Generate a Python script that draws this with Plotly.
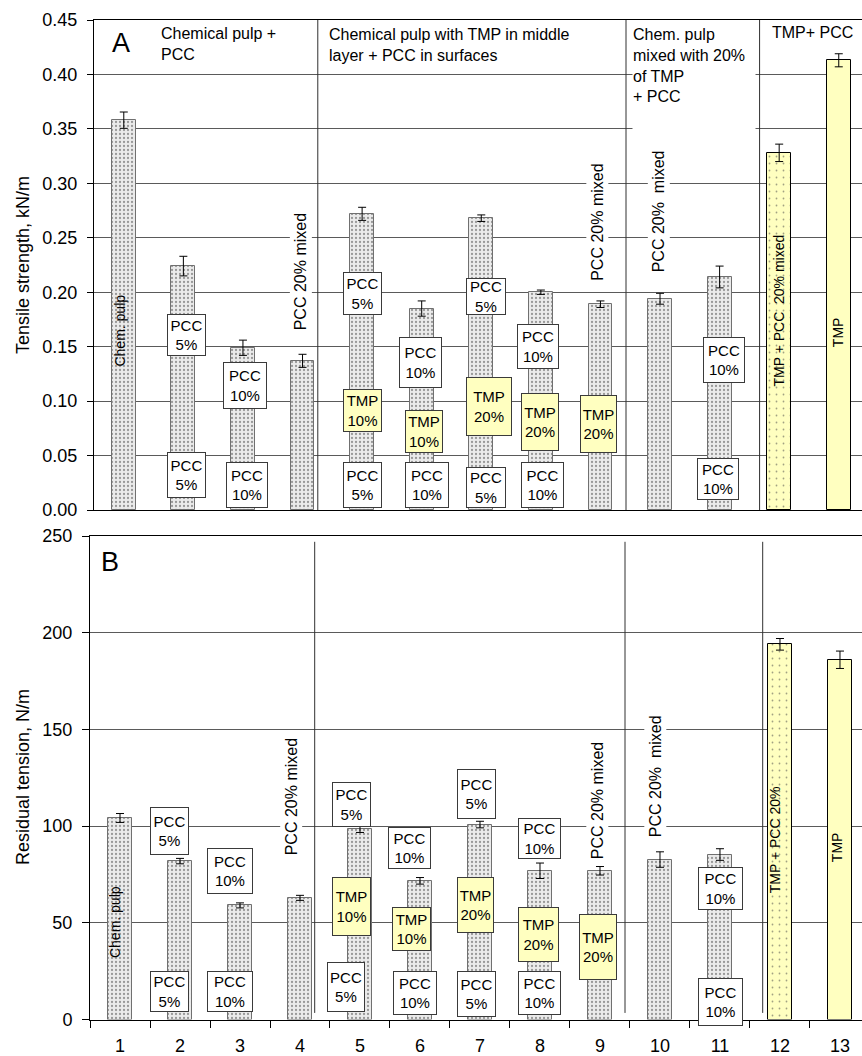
import plotly.graph_objects as go

# ---------------- data ----------------
categories = list(range(1, 14))
tick_labels = [str(c) for c in categories]

tensile = [0.358, 0.224, 0.149, 0.137, 0.272, 0.185, 0.268, 0.200, 0.189, 0.194, 0.214, 0.328, 0.413]
tensile_err = [0.0075, 0.009, 0.007, 0.006, 0.006, 0.007, 0.003, 0.002, 0.003, 0.005, 0.010, 0.008, 0.006]

residual = [104.2, 81.9, 59.0, 62.9, 98.5, 71.7, 100.8, 76.9, 76.9, 82.7, 85.3, 194.0, 186.0]
residual_err = [2.3, 1.4, 1.3, 1.3, 1.8, 1.7, 1.7, 4.0, 2.2, 4.0, 3.0, 3.0, 4.5]

# bar styles: 'g' = chemical pulp grey, 'd' = dotted yellow (mixed TMP), 'y' = TMP yellow
bar_kind = ['g'] * 11 + ['d', 'y']

# layer boxes: (label, x, y, width_px, height_px, kind)
boxes_A = [
    ("PCC<br>5%", 2.058, 0.1607, 39, 42, 'w'), ("PCC<br>5%", 2.058, 0.0321, 39, 46, 'w'),
    ("PCC<br>10%", 3.04, 0.1139, 44, 47, 'w'), ("PCC<br>10%", 3.07, 0.0230, 42, 46, 'w'),
    ("PCC<br>5%", 5.01, 0.1988, 39, 43, 'w'), ("TMP<br>10%", 5.01, 0.0914, 39, 43, 'y'),
    ("PCC<br>5%", 5.01, 0.0230, 39, 46, 'w'),
    ("PCC<br>10%", 5.985, 0.1355, 43, 51, 'w'), ("TMP<br>10%", 6.044, 0.0721, 38, 43, 'y'),
    ("PCC<br>10%", 6.094, 0.0230, 44, 46, 'w'),
    ("PCC<br>5%", 7.085, 0.1960, 40, 37, 'w'), ("TMP<br>20%", 7.135, 0.0951, 46, 59, 'y'),
    ("PCC<br>5%", 7.085, 0.0211, 40, 41, 'w'),
    ("PCC<br>10%", 7.957, 0.1502, 42, 45, 'w'), ("TMP<br>20%", 7.99, 0.0808, 38, 58, 'y'),
    ("PCC<br>10%", 8.024, 0.0230, 43, 46, 'w'),
    ("TMP<br>20%", 8.97, 0.0790, 37, 58, 'y'),
    ("PCC<br>10%", 11.08, 0.1378, 42, 46, 'w'), ("PCC<br>10%", 10.98, 0.0285, 42, 42, 'w'),
]
boxes_B = [
    ("PCC<br>5%", 1.833, 97.4, 39, 48, 'w'), ("PCC<br>5%", 1.833, 14.7, 39, 41, 'w'),
    ("PCC<br>10%", 2.833, 76.7, 46, 46, 'w'), ("PCC<br>10%", 2.833, 14.7, 46, 41, 'w'),
    ("PCC<br>5%", 4.858, 111.1, 39, 45, 'w'), ("TMP<br>10%", 4.858, 58.6, 39, 59, 'y'),
    ("PCC<br>5%", 4.767, 16.8, 38, 50, 'w'),
    ("PCC<br>10%", 5.825, 88.6, 43, 42, 'w'), ("TMP<br>10%", 5.858, 46.7, 39, 44, 'y'),
    ("PCC<br>10%", 5.917, 13.7, 44, 44, 'w'),
    ("PCC<br>5%", 6.942, 116.5, 39, 50, 'w'), ("TMP<br>20%", 6.925, 59.1, 37, 56, 'y'),
    ("PCC<br>5%", 6.942, 13.2, 39, 46, 'w'),
    ("PCC<br>10%", 7.992, 93.7, 43, 41, 'w'), ("TMP<br>20%", 7.975, 44.2, 41, 55, 'y'),
    ("PCC<br>10%", 7.992, 13.7, 43, 44, 'w'),
    ("TMP<br>20%", 8.967, 37.4, 38, 66, 'y'),
    ("PCC<br>10%", 11.008, 67.7, 45, 43, 'w'), ("PCC<br>10%", 11.008, 9.0, 45, 48, 'w'),
]

# rotated labels: (text, x, y, white background?, font size)
vlabels_A = [
    ("Chem. pulp", 0.94, 0.165, False, 14),
    ("PCC 20% mixed", 3.98, 0.2186, True, 16),
    ("PCC 20% mixed", 8.956, 0.2645, True, 16),
    ("PCC 20%  mixed", 9.988, 0.2746, True, 16),
    ("TMP + PCC  20% mixed", 11.99, 0.1828, False, 14),
    ("TMP", 12.99, 0.1635, False, 14),
]
vlabels_B = [
    ("Chem. pulp", 0.917, 50.4, False, 14),
    ("PCC 20% mixed", 3.85, 115.4, True, 16),
    ("PCC 20% mixed", 8.95, 113.4, True, 16),
    ("PCC 20%  mixed", 9.917, 125.8, True, 16),
    ("TMP + PCC 20%", 11.917, 92.7, False, 14),
    ("TMP", 12.95, 89.1, False, 14),
]

# group dividers
dividers_A = [4.256, 9.429, 11.671]
dividers_B = [4.245, 9.417, 11.712]

group_titles = [
    ("Chemical pulp +<br>PCC", 159, 23),
    ("Chemical pulp with TMP in middle<br>layer + PCC in surfaces", 327, 24),
    ("TMP+ PCC", 770, 22),
]

# ---------------- figure ----------------
W, H = 862, 1056
FONT = "Liberation Sans, Arial, sans-serif"
GREY, YEL = "#ebebeb", "#ffffc0"

fill = [GREY if k == 'g' else YEL for k in bar_kind]
pshape = ["." if k in ('g', 'd') else "" for k in bar_kind]
pfg = ["#d4d4d4" if k == 'g' else "#000000" for k in bar_kind]
psize = [4 if k == 'g' else 7 for k in bar_kind]
psol = [0.25 if k == 'g' else 0.05 for k in bar_kind]
edge = ["#707070" if k == 'g' else "#000000" for k in bar_kind]


def bar_trace(vals, errs, xa, ya):
    return go.Bar(
        x=categories, y=vals, width=0.4, xaxis=xa, yaxis=ya,
        marker=dict(color=fill, line=dict(color=edge, width=1),
                    pattern=dict(shape=pshape, fgcolor=pfg, bgcolor=fill,
                                 size=psize, solidity=psol)),
        error_y=dict(type="data", array=errs, color="black", thickness=1, width=4),
        showlegend=False, hoverinfo="skip",
    )


fig = go.Figure()
fig.add_trace(bar_trace(tensile, tensile_err, "x", "y"))
fig.add_trace(bar_trace(residual, residual_err, "x2", "y2"))

ann = []
for boxes, xr, yr in ((boxes_A, "x", "y"), (boxes_B, "x2", "y2")):
    for lab, x, y, w, h, k in boxes:
        ann.append(dict(text=lab, x=x, y=y, xref=xr, yref=yr, showarrow=False,
                        width=w - 2, height=h - 2, borderpad=0,
                        bgcolor="white" if k == 'w' else YEL,
                        bordercolor="#3a3a3a", borderwidth=1,
                        font=dict(family=FONT, size=15, color="black")))
for labels, xr, yr in ((vlabels_A, "x", "y"), (vlabels_B, "x2", "y2")):
    for lab, x, y, bg, fs in labels:
        ann.append(dict(text=lab, x=x, y=y, xref=xr, yref=yr, showarrow=False,
                        textangle=-90, bgcolor="white" if bg else None, borderpad=2,
                        font=dict(family=FONT, size=fs, color="black")))
for lab, px, py in group_titles:
    ann.append(dict(text=lab, x=px / W, y=1 - py / H, xref="paper", yref="paper",
                    xanchor="left", yanchor="top", align="left", showarrow=False,
                    font=dict(family=FONT, size=16, color="black")))
ann.append(dict(text="Chem. pulp<br>mixed with 20%<br>of TMP<br>+ PCC", x=632 / W, y=1 - 25 / H,
                xref="paper", yref="paper", xanchor="left", yanchor="top", align="left",
                valign="top", width=122, height=104, bgcolor="white", borderpad=0,
                showarrow=False, font=dict(family=FONT, size=16, color="black")))
for lab, px, py in (("A", 121, 43), ("B", 110, 562)):
    ann.append(dict(text=lab, x=px / W, y=1 - py / H, xref="paper", yref="paper",
                    xanchor="center", yanchor="middle", showarrow=False,
                    font=dict(family=FONT, size=27, color="black")))
for lab, py in (("Tensile strength, kN/m", 265), ("Residual tension, N/m", 777)):
    ann.append(dict(text=lab, x=23 / W, y=1 - py / H, xref="paper", yref="paper",
                    xanchor="center", yanchor="middle", textangle=-90, showarrow=False,
                    font=dict(family=FONT, size=18, color="black")))

shapes = []
for d in dividers_A:
    shapes.append(dict(type="line", x0=d, x1=d, y0=0, y1=0.45, xref="x", yref="y",
                       line=dict(color="#303030", width=1), layer="above"))
for d in dividers_B:
    shapes.append(dict(type="line", x0=d, x1=d, y0=3.4, y1=247, xref="x2", yref="y2",
                       line=dict(color="#303030", width=1), layer="above"))

axis_font = dict(family=FONT, size=18, color="black")
fig.update_layout(
    width=W, height=H, autosize=False,
    margin=dict(l=0, r=0, t=0, b=0),
    paper_bgcolor="white", plot_bgcolor="white",
    barmode="overlay", bargap=0,
    annotations=ann, shapes=shapes,
    xaxis=dict(domain=[94 / W, 1], range=[0.5, 13.39], anchor="y",
               showticklabels=False, ticks="", showgrid=False, zeroline=False,
               showline=True, linecolor="black", linewidth=1, mirror=True),
    yaxis=dict(domain=[1 - 510 / H, 1 - 20 / H], range=[0, 0.45], anchor="x",
               tickmode="linear", tick0=0, dtick=0.05, tickformat=".2f",
               ticks="outside", ticklen=6, tickcolor="black", tickfont=axis_font,
               ticklabelstandoff=6,
               showgrid=True, gridcolor="#5a5a5a", gridwidth=1, zeroline=False,
               showline=True, linecolor="black", linewidth=1, automargin=False),
    xaxis2=dict(domain=[90 / W, 1], range=[0.5, 13.367], anchor="y2",
                tickmode="array", tickvals=categories, ticktext=tick_labels,
                ticks="outside", ticklen=10, tickcolor="rgba(0,0,0,0)", tickfont=axis_font,
                minor=dict(tickmode="array", tickvals=[c - 0.5 for c in categories] + [13.5],
                           ticks="outside", ticklen=7, tickcolor="black", showgrid=False),
                showgrid=False, zeroline=False,
                showline=True, linecolor="black", linewidth=1, mirror=True, automargin=False),
    yaxis2=dict(domain=[1 - 1019.5 / H, 1 - 536 / H], range=[0, 250], anchor="x2",
                tickmode="linear", tick0=0, dtick=50,
                ticks="outside", ticklen=7, tickcolor="black", tickfont=axis_font,
                ticklabelstandoff=6,
                showgrid=True, gridcolor="#5a5a5a", gridwidth=1, zeroline=False,
                showline=True, linecolor="black", linewidth=1, automargin=False),
)

fig.write_html("out.html", config={"displayModeBar": False},
               post_script="document.body.style.margin='0px';document.body.style.overflow='hidden';")
